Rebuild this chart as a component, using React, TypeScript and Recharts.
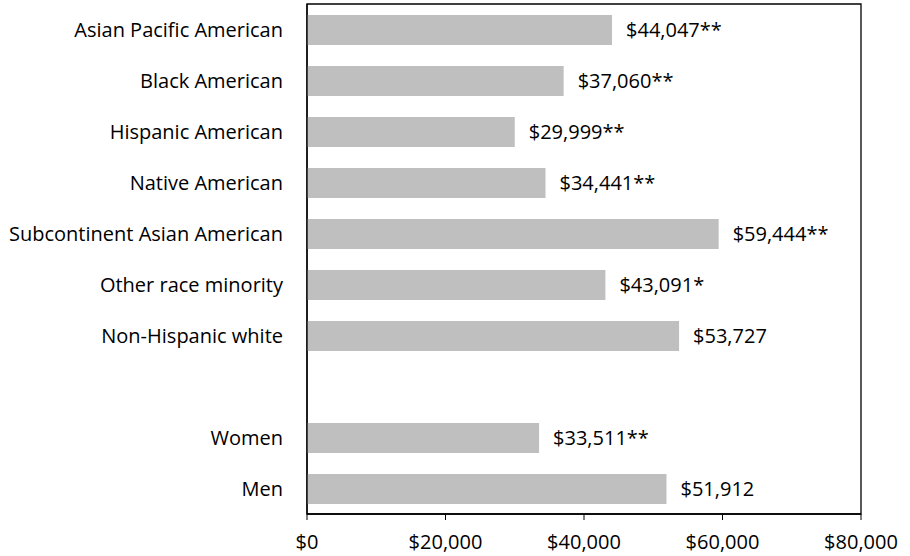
import React from 'react';
import { BarChart, Bar, XAxis, YAxis, LabelList, ReferenceArea } from 'recharts';

const groups = [
  'Asian Pacific American',
  'Black American',
  'Hispanic American',
  'Native American',
  'Subcontinent Asian American',
  'Other race minority',
  'Non-Hispanic white',
  '',
  'Women',
  'Men',
];

const earnings: (number | null)[] = [44047, 37060, 29999, 34441, 59444, 43091, 53727, null, 33511, 51912];

const significance = ['**', '**', '**', '**', '**', '*', '', '', '**', ''];

const xTicks = [0, 20000, 40000, 60000, 80000];

const FONT = '"Open Sans", sans-serif';
const FS = 20;

const money = (v: number) => `$${v.toLocaleString('en-US')}`;

export default function App() {
  const data = groups.map((name, i) => ({
    name,
    value: earnings[i],
    label: earnings[i] == null ? '' : money(earnings[i] as number) + significance[i],
  }));

  return (
    <div style={{ position: 'absolute', left: 0, top: 0, width: 910, height: 556, background: '#fff' }}>
      <BarChart
        width={910}
        height={556}
        data={data}
        layout="vertical"
        margin={{ top: 4, right: 49, left: 0, bottom: 0 }}
        barSize={30}
      >
        <XAxis
          type="number"
          domain={[0, 80000]}
          ticks={xTicks}
          tickFormatter={money}
          height={42}
          axisLine={{ stroke: '#000', strokeWidth: 1.3 }}
          tickLine={{ stroke: '#000' }}
          tickSize={6}
          tickMargin={15}
          tick={{ fontSize: FS, fill: '#000', fontFamily: FONT }}
        />
        <YAxis
          type="category"
          dataKey="name"
          width={307}
          axisLine={{ stroke: '#000', strokeWidth: 1.3 }}
          tickLine={false}
          tickSize={0}
          tickMargin={24}
          interval={0}
          tick={{ fontSize: FS, fill: '#000', fontFamily: FONT }}
        />
        <ReferenceArea x1={0} x2={80000} fill="none" fillOpacity={0} stroke="#000" strokeWidth={1.3} ifOverflow="extendDomain" />
        <Bar dataKey="value" fill="#BFBFBF" isAnimationActive={false}>
          <LabelList
            dataKey="label"
            position="right"
            offset={14}
            style={{ fontSize: FS, fill: '#000', fontFamily: FONT }}
          />
        </Bar>
      </BarChart>
    </div>
  );
}
